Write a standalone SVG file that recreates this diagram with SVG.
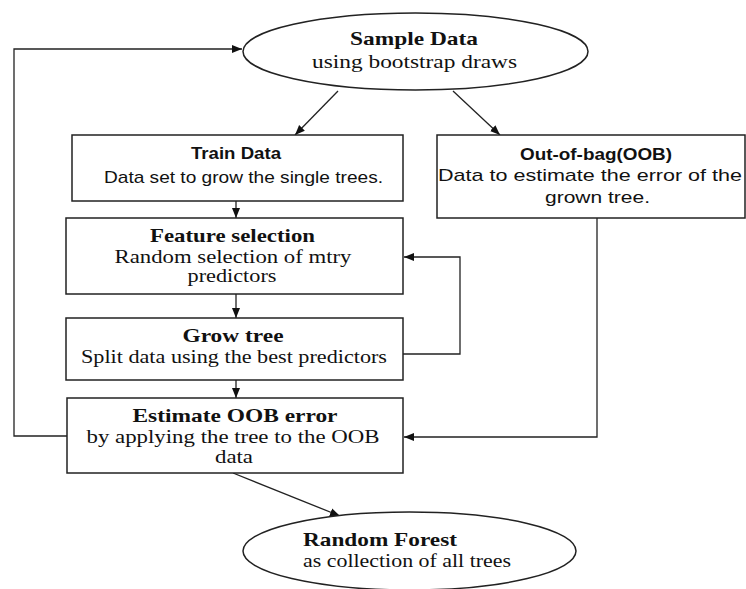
<svg xmlns="http://www.w3.org/2000/svg" width="746" height="589" viewBox="0 0 746 589">
<style>
.shape{fill:#fff;stroke:#222;stroke-width:1.5}
.edge{fill:none;stroke:#222;stroke-width:1.3}
.serif{font-family:"Liberation Serif","Times New Roman",serif;font-size:19px;fill:#111}
.sans{font-family:"Liberation Sans",Arial,sans-serif;font-size:17px;fill:#111}
.b{font-weight:bold}
.c{text-anchor:middle}
</style>
<defs>
<marker id="ah" viewBox="0 0 10 10" refX="10" refY="5" markerWidth="10" markerHeight="10" markerUnits="userSpaceOnUse" orient="auto">
<path d="M0,1 L10,5 L0,9 Z" fill="#111"/>
</marker>
</defs>
<rect width="746" height="589" fill="#fff"/>
<g id="connectors">
<polyline class="edge" points="67,436 14,436 14,49 242,49" marker-end="url(#ah)"/>
<line class="edge" x1="338" y1="91" x2="295" y2="135" marker-end="url(#ah)"/>
<line class="edge" x1="453" y1="91" x2="500" y2="135" marker-end="url(#ah)"/>
<line class="edge" x1="236" y1="201" x2="236" y2="218" marker-end="url(#ah)"/>
<line class="edge" x1="236" y1="294" x2="236" y2="318" marker-end="url(#ah)"/>
<line class="edge" x1="236" y1="380" x2="236" y2="398" marker-end="url(#ah)"/>
<polyline class="edge" points="403,354 460,354 460,257 404,257" marker-end="url(#ah)"/>
<polyline class="edge" points="597,218 597,437 404,437" marker-end="url(#ah)"/>
<line class="edge" x1="233" y1="473" x2="340" y2="516" marker-end="url(#ah)"/>
</g>
<g id="sample-data">
<ellipse class="shape" cx="415.5" cy="51.5" rx="172.5" ry="38.5"/>
<text class="serif b c" x="414" y="45" textLength="128" lengthAdjust="spacingAndGlyphs">Sample Data</text>
<text class="serif c" x="414.5" y="68" textLength="205" lengthAdjust="spacingAndGlyphs">using bootstrap draws</text>
</g>
<g id="train-data">
<rect class="shape" x="72" y="135" width="331" height="66"/>
<text class="sans b c" x="236" y="159" textLength="90" lengthAdjust="spacingAndGlyphs">Train Data</text>
<text class="sans c" x="243.5" y="183" textLength="279" lengthAdjust="spacingAndGlyphs">Data set to grow the single trees.</text>
</g>
<g id="oob">
<rect class="shape" x="437" y="135" width="308" height="83"/>
<text class="sans b c" x="596" y="160" textLength="152" lengthAdjust="spacingAndGlyphs">Out-of-bag(OOB)</text>
<text class="sans c" x="590" y="181" textLength="304" lengthAdjust="spacingAndGlyphs">Data to estimate the error of the</text>
<text class="sans c" x="597.5" y="203" textLength="105" lengthAdjust="spacingAndGlyphs">grown tree.</text>
</g>
<g id="feature-selection">
<rect class="shape" x="66" y="218" width="337" height="76"/>
<text class="serif b c" x="232.5" y="242" textLength="165" lengthAdjust="spacingAndGlyphs">Feature selection</text>
<text class="serif c" x="233" y="263" textLength="237" lengthAdjust="spacingAndGlyphs">Random selection of mtry</text>
<text class="serif c" x="232" y="282" textLength="89" lengthAdjust="spacingAndGlyphs">predictors</text>
</g>
<g id="grow-tree">
<rect class="shape" x="66" y="318" width="337" height="62"/>
<text class="serif b c" x="233" y="342" textLength="101" lengthAdjust="spacingAndGlyphs">Grow tree</text>
<text class="serif c" x="234" y="363" textLength="306" lengthAdjust="spacingAndGlyphs">Split data using the best predictors</text>
</g>
<g id="estimate-oob">
<rect class="shape" x="67" y="398" width="336" height="75"/>
<text class="serif b c" x="235" y="422" textLength="205" lengthAdjust="spacingAndGlyphs">Estimate OOB error</text>
<text class="serif c" x="233" y="443" textLength="293" lengthAdjust="spacingAndGlyphs">by applying the tree to the OOB</text>
<text class="serif c" x="234" y="463" textLength="38" lengthAdjust="spacingAndGlyphs">data</text>
</g>
<g id="random-forest">
<ellipse class="shape" cx="409.5" cy="551" rx="166.5" ry="39"/>
<text class="serif b" x="303" y="546" textLength="154" lengthAdjust="spacingAndGlyphs">Random Forest</text>
<text class="serif" x="303" y="567" textLength="208" lengthAdjust="spacingAndGlyphs">as collection of all trees</text>
</g>
</svg>
